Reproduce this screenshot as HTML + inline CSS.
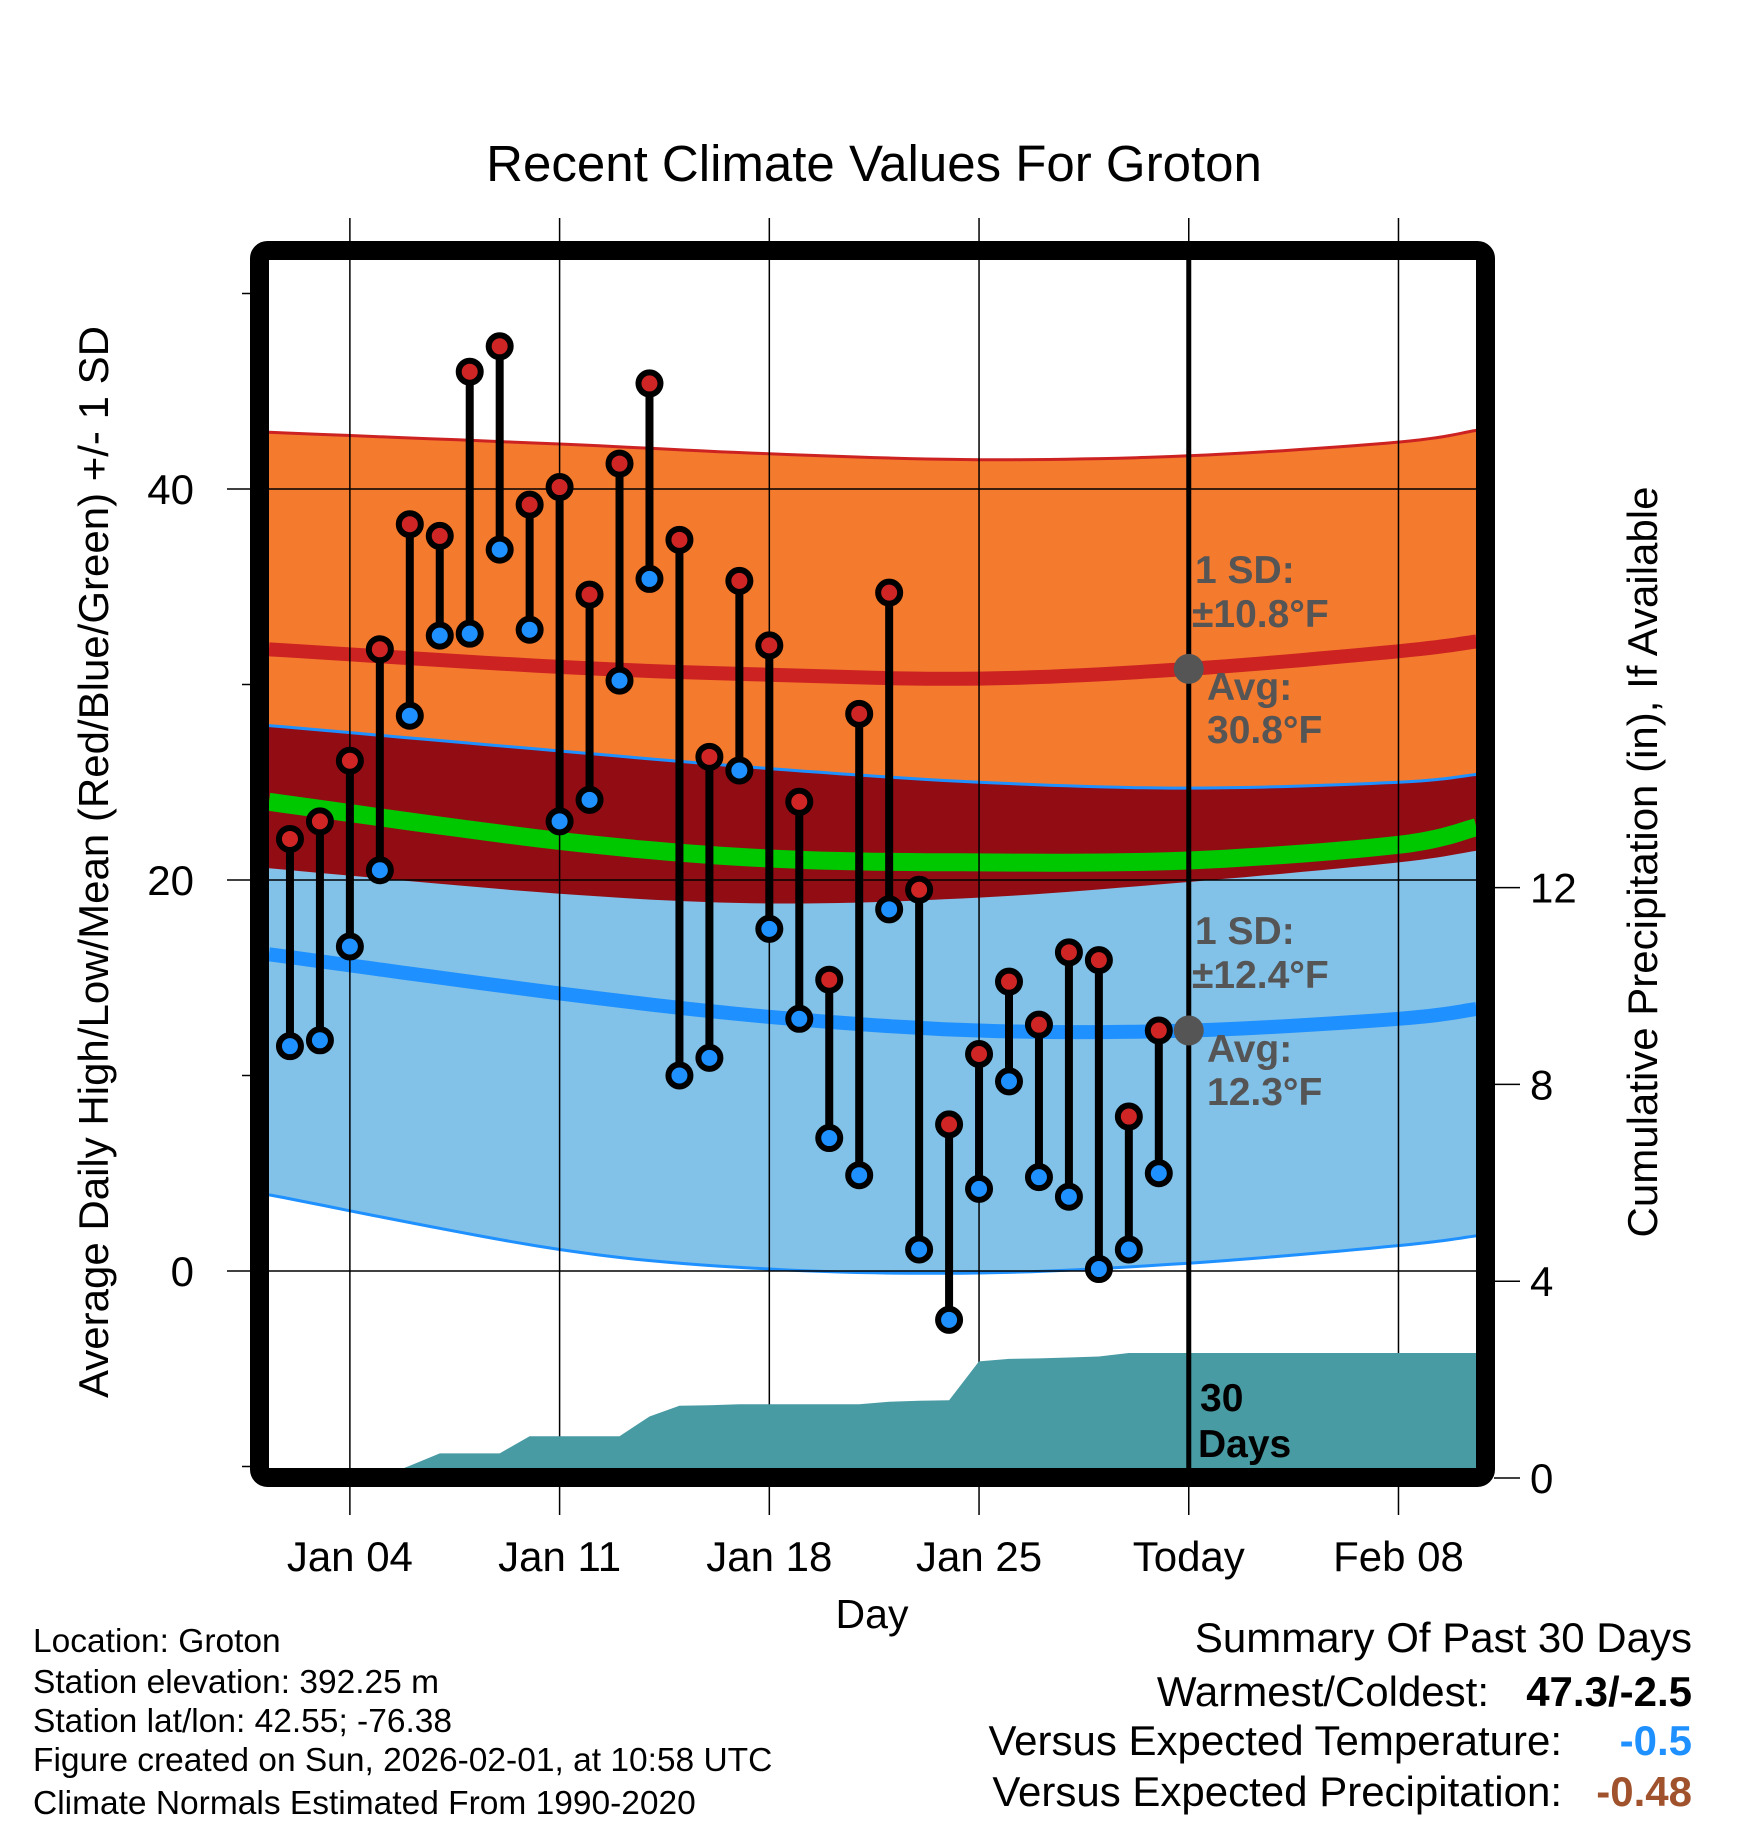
<!DOCTYPE html>
<html><head><meta charset="utf-8"><style>
html,body{margin:0;padding:0;background:#fff}
svg{display:block}
text{font-family:"Liberation Sans",sans-serif}
</style></head><body>
<svg id="chart" width="1748" height="1828" viewBox="0 0 1748 1828" xmlns="http://www.w3.org/2000/svg">
<defs><clipPath id="plotclip"><rect x="269" y="259" width="1209" height="1209"/></clipPath></defs>
<g id="bands" clip-path="url(#plotclip)"></g>
<g id="grid"></g>
<g id="precip" clip-path="url(#plotclip)"></g>
<g id="today"></g>
<g id="marks"></g>
<rect x="259.5" y="250.5" width="1226" height="1227" rx="8" fill="none" stroke="#000" stroke-width="19"/>
<g id="axes"></g>
<text x="874" y="181" font-size="51" text-anchor="middle">Recent Climate Values For Groton</text>
<text x="872" y="1628" font-size="41" text-anchor="middle">Day</text>
<text transform="translate(108,862) rotate(-90)" font-size="42" text-anchor="middle">Average Daily High/Low/Mean (Red/Blue/Green) +/- 1 SD</text>
<text transform="translate(1657,862) rotate(-90)" font-size="42" text-anchor="middle">Cumulative Precipitation (in), If Available</text>
<g fill="#555" font-weight="bold" font-size="39">
<text x="1195" y="583">1 SD:</text>
<text x="1192" y="627">±10.8°F</text>
<text x="1207" y="700">Avg:</text>
<text x="1207" y="743">30.8°F</text>
<text x="1195" y="944">1 SD:</text>
<text x="1192" y="988">±12.4°F</text>
<text x="1207" y="1062">Avg:</text>
<text x="1207" y="1105">12.3°F</text>
</g>
<g font-weight="bold" font-size="39">
<text x="1200" y="1411">30</text><text x="1198" y="1457">Days</text>
</g>
<g font-size="33.5">
<text x="33" y="1652">Location: Groton</text>
<text x="33" y="1693">Station elevation: 392.25 m</text>
<text x="33" y="1732">Station lat/lon: 42.55; -76.38</text>
<text x="33" y="1771">Figure created on Sun, 2026-02-01, at 10:58 UTC</text>
<text x="33" y="1814">Climate Normals Estimated From 1990-2020</text>
</g>
<g font-size="42" text-anchor="end">
<text x="1692" y="1652">Summary Of Past 30 Days</text>
<text x="1489" y="1706">Warmest/Coldest:</text>
<text x="1692" y="1706" font-weight="bold">47.3/-2.5</text>
<text x="1562" y="1755">Versus Expected Temperature:</text>
<text x="1692" y="1755" font-weight="bold" fill="#1E90FF">-0.5</text>
<text x="1562" y="1806">Versus Expected Precipitation:</text>
<text x="1692" y="1806" font-weight="bold" fill="#A0522D">-0.48</text>
</g>
</svg>
<script>
// data: day numbers (Jan 1 = 1)
const obsDays = [2,3,4,5,6,7,8,9,10,11,12,13,14,15,16,17,18,19,20,21,22,23,24,25,26,27,28,29,30,31];
const highs = [22.1,23.0,26.1,31.8,38.2,37.6,46.0,47.3,39.2,40.1,34.6,41.3,45.4,37.4,26.3,35.3,32.0,24.0,14.9,28.5,34.7,19.5,7.5,11.1,14.8,12.6,16.3,15.9,7.9,12.3];
const lows = [11.5,11.8,16.6,20.5,28.4,32.5,32.6,36.9,32.8,23.0,24.1,30.2,35.4,10.0,10.9,25.6,17.5,12.9,6.8,4.9,18.5,1.1,-2.5,4.2,9.7,4.8,3.8,0.1,1.1,5.0];
const normDays = [1.3,11,18,25,32,39,41.6];
const highAvg = [31.8,30.9,30.5,30.3,30.8,31.7,32.2];
const highUpper = [42.9,42.3,41.8,41.5,41.7,42.4,43.0];
const highLower = [20.6,19.3,18.8,19.1,19.9,20.9,21.5];
const lowAvg = [16.2,14.2,13.0,12.3,12.3,12.9,13.4];
const lowUpper = [27.9,26.6,25.7,25.0,24.7,25.0,25.4];
const lowLower = [3.9,1.1,0.1,-0.1,0.4,1.3,1.8];
const meanAvg = [24.0,22.0,21.1,20.9,21.0,21.8,22.7];
const precipDays = [1,5,6,7,8,9,10,11,12,13,14,15,16,17,18,19,20,21,22,23,24,25,26,27,28,29,30,31,42];
const precipCum = [0,0,0.25,0.5,0.5,0.5,0.85,0.85,0.85,0.85,1.25,1.47,1.48,1.5,1.5,1.5,1.5,1.5,1.55,1.57,1.58,2.37,2.42,2.43,2.45,2.47,2.54,2.54,2.54];
const xTickDays = [4,11,18,25,32,39];
const xTickLabels = ["Jan 04","Jan 11","Jan 18","Jan 25","Today","Feb 08"];
const yMajor = [0,20,40];
const yMinor = [-10,10,30,50];
const y2Ticks = [0,4,8,12];

const NS="http://www.w3.org/2000/svg";
const X=d=>260+(d-1)*29.96;
const Y=v=>1271-v*19.55;
const Y2=p=>1478-p*49.2;
function mk(tag,attrs,parent){const e=document.createElementNS(NS,tag);for(const k in attrs)e.setAttribute(k,attrs[k]);parent.appendChild(e);return e;}
const bands=document.getElementById('bands'),grid=document.getElementById('grid'),precip=document.getElementById('precip'),marks=document.getElementById('marks'),axes=document.getElementById('axes'),today=document.getElementById('today');
// smooth curve (catmull-rom) through data points
function curvePts(vals){
  const P=normDays.map((d,i)=>[X(d),Y(vals[i])]);
  const out=[];
  for(let i=0;i<P.length-1;i++){
    const p0=P[Math.max(0,i-1)],p1=P[i],p2=P[i+1],p3=P[Math.min(P.length-1,i+2)];
    for(let s=0;s<12;s++){
      const t=s/12,t2=t*t,t3=t2*t;
      const f=(a,b,c,d)=>0.5*((2*b)+(-a+c)*t+(2*a-5*b+4*c-d)*t2+(-a+3*b-3*c+d)*t3);
      out.push(f(p0[0],p1[0],p2[0],p3[0]).toFixed(1)+','+f(p0[1],p1[1],p2[1],p3[1]).toFixed(1));
    }
  }
  out.push(P[P.length-1][0].toFixed(1)+','+P[P.length-1][1].toFixed(1));
  return out;
}
function band(up,lo,fill,name){
  const p=curvePts(up).concat(curvePts(lo).reverse());
  const e=mk('polygon',{points:p.join(' '),fill:fill},bands);
  
  
}
function line(vals,color,w,name){
  const e=mk('polyline',{points:curvePts(vals).join(' '),fill:'none',stroke:color,'stroke-width':w},bands);
  
  
}
band(highUpper,highLower,'#F47A2E','high-band');
band(lowUpper,lowLower,'#82C1E8','low-band');
const ov=mk('polygon',{points:curvePts(lowUpper).concat(curvePts(highLower).reverse()).join(' '),fill:'#920C14'},bands);


line(highUpper,'#CC2222',3,'high-upper-line');
line(lowUpper,'#1E90FF',3,'low-upper-line');
line(lowLower,'#1E90FF',3,'low-lower-line');
line(highAvg,'#CC2222',14,'high-avg-line');
line(lowAvg,'#1E90FF',14,'low-avg-line');
line(meanAvg,'#00C800',18,'mean-avg-line');
// precip
const pp=[X(1)+','+Y2(0)].concat(precipDays.map((d,i)=>X(d).toFixed(1)+','+Y2(precipCum[i]).toFixed(1))).concat([X(42)+','+Y2(0)]);
const pa=mk('polygon',{points:pp.join(' '),fill:'#489AA3'},precip);


// grid
xTickDays.forEach((d,i)=>{
  const g=mk('line',{x1:X(d),x2:X(d),y1:218,y2:1515,stroke:'#000','stroke-width':1.5},grid);
  
  
  if(i==4){
    const t=mk('line',{x1:X(d),x2:X(d),y1:259,y2:1468,stroke:'#000','stroke-width':5},today);
    
    
  }
  const tx=mk('text',{x:X(d),y:1571,'font-size':42,'text-anchor':'middle'},axes);
  tx.textContent=xTickLabels[i];
  
  
});
yMajor.forEach(v=>{
  const g=mk('line',{x1:227,x2:1478,y1:Y(v),y2:Y(v),stroke:'#000','stroke-width':1.5},grid);
  
  
  const t=mk('text',{x:194,y:Y(v)+15,'font-size':42,'text-anchor':'end'},axes);
  t.textContent=v;
  
  
});
yMinor.forEach(v=>{
  const g=mk('line',{x1:242,x2:252,y1:Y(v),y2:Y(v),stroke:'#000','stroke-width':1.5},axes);
  
  
});
y2Ticks.forEach(p=>{
  const g=mk('line',{x1:1494,x2:1520,y1:Y2(p),y2:Y2(p),stroke:'#000','stroke-width':1.5},axes);
  
  
  const t=mk('text',{x:1530,y:Y2(p)+15,'font-size':42},axes);
  t.textContent=p;
  
  
});
// marks
obsDays.forEach((d,i)=>{
  const l=mk('line',{x1:X(d),x2:X(d),y1:Y(highs[i]),y2:Y(lows[i]),stroke:'#000','stroke-width':8},marks);
  
  
  const h=mk('circle',{cx:X(d),cy:Y(highs[i]),r:11,fill:'#D02525',stroke:'#000','stroke-width':6},marks);
  
  
  const c=mk('circle',{cx:X(d),cy:Y(lows[i]),r:11,fill:'#1E90FF',stroke:'#000','stroke-width':6},marks);
  
  
});
[30.8,12.3].forEach(v=>{
  const c=mk('circle',{cx:X(32),cy:Y(v),r:15,fill:'#555'},marks);
  
  
});
</script>
</body></html>
